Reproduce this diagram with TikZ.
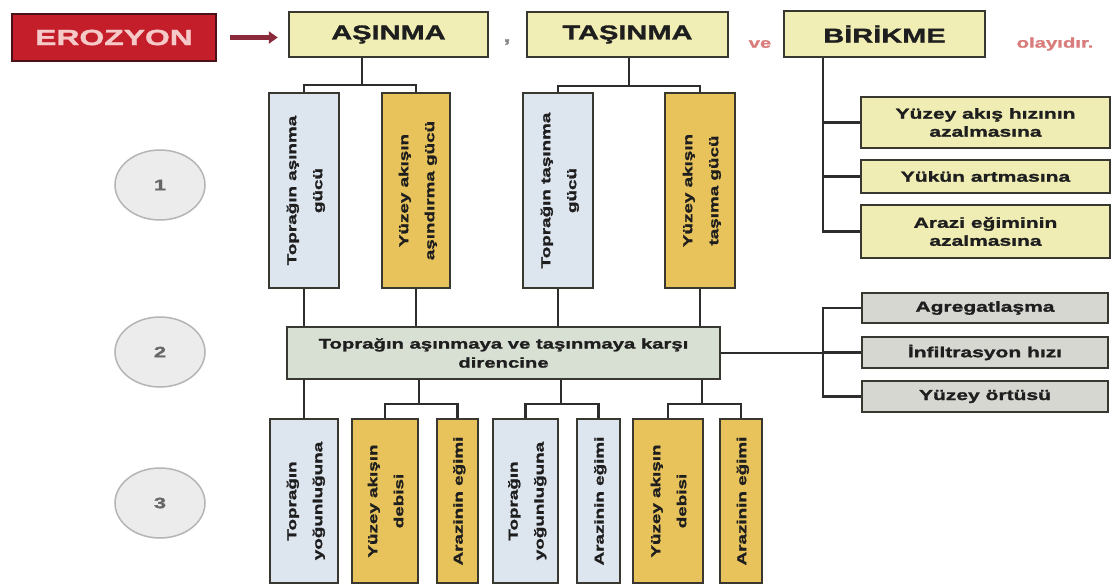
\documentclass[tikz,border=0pt]{standalone}
\usepackage{fontspec}
\usepackage{graphicx}
\newfontfamily\wf{Liberation Sans}[FakeStretch=1.45, BoldFeatures={FakeBold=1.5}]
\usetikzlibrary{arrows.meta,shapes.geometric}
\definecolor{redbox}{HTML}{C41E2A}
\definecolor{redbord}{HTML}{4A1218}
\definecolor{redtxt}{HTML}{F6C9C9}
\definecolor{titlefill}{HTML}{F0EEB4}
\definecolor{bord}{HTML}{383830}
\definecolor{bluefill}{HTML}{DDE5EF}
\definecolor{orfill}{HTML}{E8C35C}
\definecolor{birfill}{HTML}{EFECB4}
\definecolor{midfill}{HTML}{D8E0D4}
\definecolor{grayfill}{HTML}{D5D7D0}
\definecolor{circfill}{HTML}{ECECEC}
\definecolor{circbord}{HTML}{B5B5B5}
\definecolor{pinktxt}{HTML}{D97C7C}
\definecolor{arrowc}{HTML}{8A2A3A}
\definecolor{txt}{HTML}{1E1E1E}
\definecolor{conc}{HTML}{2D2D2D}
\newcommand\vtext[1]{\rotatebox{90}{\begin{tabular}{@{}c@{}}#1\end{tabular}}}
\begin{document}
\begin{tikzpicture}[x=1pt,y=-1pt,
  box/.style={draw=bord, line width=2.5pt, inner sep=0pt, align=center, text=txt},
  titlebox/.style={box, fill=titlefill, font=\wf\bfseries\fontsize{20}{24}\selectfont},
  vbox/.style={box, font=\wf\bfseries\fontsize{13}{26}\selectfont},
  bluebox/.style={vbox, fill=bluefill},
  orbox/.style={vbox, fill=orfill},
  hbox/.style={box, font=\wf\bfseries\fontsize{14.5}{18}\selectfont},
  circ/.style={ellipse, draw=circbord, line width=1.5pt, fill=circfill, minimum width=90pt, minimum height=70pt, text=black!60, font=\wf\bfseries\fontsize{15}{17}\selectfont},
  conn/.style={draw=conc, line width=2.5pt},
  arr/.style={draw=arrowc, line width=5pt, -{Triangle[length=9pt,width=12pt]}},
  note/.style={inner sep=0pt, font=\wf\bfseries\fontsize{14}{16}\selectfont, text=pinktxt}]
\useasboundingbox[fill=white] (0,0) rectangle (1112,587);

% title row
\node[box, draw=redbord, fill=redbox, text=redtxt, minimum width=204pt, minimum height=47pt,
  font=\wf\bfseries\fontsize{22}{26}\selectfont] (ero) at (114,37.5) {EROZYON};
\node[titlebox, minimum width=199pt, minimum height=45pt] (asin) at (388.5,34.5) {AŞINMA};
\node[titlebox, minimum width=201pt, minimum height=45pt] (tasin) at (627.5,34.5) {TAŞINMA};
\node[titlebox, minimum width=201pt, minimum height=46pt] (birik) at (884.5,34) {BİRİKME};
\node[note, text=black!45, font=\wf\bfseries\fontsize{18}{20}\selectfont] (comma) at (507,42) {,};
\node[note] (ve) at (760,44) {ve};
\node[note] (olay) at (1055,44) {olayıdır.};
\draw[arr] ([xshift=13pt]ero.east) -- ([xshift=-10pt]ero.east -| asin.west);

% circles
\node[circ] (c1) at (160,185) {1};
\node[circ] (c2) at (160,352) {2};
\node[circ] (c3) at (160,503) {3};

% row 1 vertical boxes
\node[bluebox, minimum width=70pt, minimum height=195pt] (t1) at (304,190.5) {\vtext{Toprağın aşınma\\gücü}};
\node[orbox, minimum width=68pt, minimum height=195pt] (t2) at (416,190.5) {\vtext{Yüzey akışın\\aşındırma gücü}};
\node[bluebox, minimum width=70pt, minimum height=195pt] (t3) at (558,190.5) {\vtext{Toprağın taşınma\\gücü}};
\node[orbox, minimum width=70pt, minimum height=195pt] (t4) at (700,190.5) {\vtext{Yüzey akışın\\taşıma gücü}};

% birikme boxes
\node[hbox, fill=birfill, minimum width=249pt, minimum height=51pt] (ba) at (985.5,122.5) {Yüzey akış hızının\\azalmasına};
\node[hbox, fill=birfill, minimum width=249pt, minimum height=33pt] (bb) at (985.5,176.5) {Yükün artmasına};
\node[hbox, fill=birfill, minimum width=249pt, minimum height=53pt] (bc) at (985.5,231.5) {Arazi eğiminin\\azalmasına};

% row 2
\node[hbox, fill=midfill, minimum width=433pt, minimum height=52pt, font=\wf\bfseries\fontsize{14}{19}\selectfont] (mid) at (503.5,353) {Toprağın aşınmaya ve taşınmaya karşı\\direncine};
\node[hbox, fill=grayfill, minimum width=246pt, minimum height=30pt] (ga) at (985,308) {Agregatlaşma};
\node[hbox, fill=grayfill, minimum width=246pt, minimum height=31pt] (gb) at (985,352.5) {İnfiltrasyon hızı};
\node[hbox, fill=grayfill, minimum width=246pt, minimum height=31pt] (gc) at (985,396.5) {Yüzey örtüsü};

% row 3
\node[bluebox, minimum width=68pt, minimum height=164pt] (b1) at (304,501) {\vtext{Toprağın\\yoğunluğuna}};
\node[orbox, minimum width=66pt, minimum height=164pt] (b2) at (385,501) {\vtext{Yüzey akışın\\debisi}};
\node[orbox, minimum width=41pt, minimum height=164pt] (b3) at (457.5,501) {\vtext{Arazinin eğimi}};
\node[bluebox, minimum width=65pt, minimum height=164pt] (b4) at (525.5,501) {\vtext{Toprağın\\yoğunluğuna}};
\node[bluebox, minimum width=43pt, minimum height=164pt] (b5) at (598.5,501) {\vtext{Arazinin eğimi}};
\node[orbox, minimum width=70pt, minimum height=164pt] (b6) at (668,501) {\vtext{Yüzey akışın\\debisi}};
\node[orbox, minimum width=42pt, minimum height=164pt] (b7) at (741,501) {\vtext{Arazinin eğimi}};

% connectors
\coordinate (ja) at (362,85);
\coordinate (jt) at (629,86);
\draw[conn] (asin.south -| ja) -- (ja);
\draw[conn] (t1.north) |- (ja) -| (t2.north);
\draw[conn] (tasin.south -| jt) -- (jt);
\draw[conn] (t3.north) |- (jt) -| (t4.north);

\draw[conn] (t1.south) -- (t1.south |- mid.north);
\draw[conn] (t2.south) -- (t2.south |- mid.north);
\draw[conn] (t3.south) -- (t3.south |- mid.north);
\draw[conn] (t4.south) -- (t4.south |- mid.north);

\coordinate (k1) at (419,404);
\coordinate (k2) at (561,404);
\coordinate (k3) at (702,404);
\draw[conn] (mid.south -| b1.north) -- (b1.north);
\draw[conn] (mid.south -| k1) -- (k1);
\draw[conn] (b2.north) |- (k1) -| (b3.north);
\draw[conn] (mid.south -| k2) -- (k2);
\draw[conn] (b4.north) |- (k2) -| (b5.north);
\draw[conn] (mid.south -| k3) -- (k3);
\draw[conn] (b6.north) |- (k3) -| (b7.north);

\coordinate (bk) at (823,120);
\draw[conn] (birik.south -| bk) -- (bk |- bc.west) -- (bc.west);
\draw[conn] (bk |- ba.west) -- (ba.west);
\draw[conn] (bk |- bb.west) -- (bb.west);

\coordinate (gk) at (823,353);
\draw[conn] (mid.east) -- (mid.east -| gk);
\draw[conn] (ga.west) -- (ga.west -| gk) -- (gc.west -| gk) -- (gc.west);
\draw[conn] (gb.west) -- (gb.west -| gk);
\end{tikzpicture}
\end{document}
